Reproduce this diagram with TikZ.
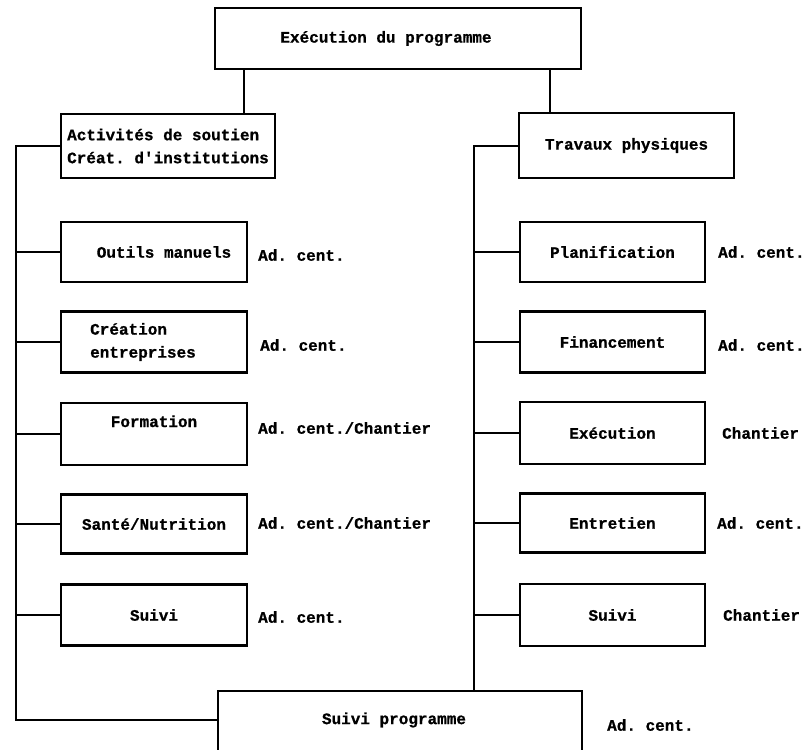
\documentclass[tikz,border=0pt]{standalone}
\usepackage{fontspec}
\setmonofont{Liberation Mono}[BoldFeatures={FakeBold=0.8}]
\begin{document}
\begin{tikzpicture}[x=1pt,y=-1pt,
  txt/.style={font=\ttfamily\bfseries\fontsize{16}{23}\selectfont},
  box/.style={txt, draw, line width=2.4pt, inner sep=0pt, minimum width=186pt, minimum height=60pt},
  side/.style={txt, anchor=west, inner sep=0pt},
  link/.style={line width=2pt}]
\useasboundingbox (0,0) rectangle (807,750);

% top level
\node[box, minimum width=366pt, minimum height=61pt] (top) at (398,38.5) {Exécution du programme\hspace*{24pt}};

% two branches
\node[box, minimum width=214pt, minimum height=64pt, align=left] (act) at (168,146) {Activités de soutien\\Créat. d'institutions};
\node[box, minimum width=215pt, minimum height=65pt] (trav) at (626.5,145.5) {Travaux physiques};

\coordinate (tl) at ([xshift=30pt]top.south west);
\coordinate (tr) at ([xshift=-32pt]top.south east);
\draw[link] (tl) -- (tl |- act.north);
\draw[link] (tr) -- (tr |- trav.north);

% support activities
\node[box] (o1) at (154,252) {\hspace*{20pt}Outils manuels};
\node[box, minimum height=61pt, align=left] (o2) at (154,342) {Création\\entreprises\hspace*{22pt}};
\node[box, minimum height=62pt] (o3) at (154,434) {\raisebox{7pt}[0pt][0pt]{Formation}};
\node[box, minimum height=59pt] (o4) at (154,524) {Santé/Nutrition};
\node[box, minimum height=61pt] (o5) at (154,615) {Suivi};

\node[side] (lo1) at (258,255) {Ad. cent.};
\node[side] (lo2) at (260,345) {Ad. cent.};
\node[side] (lo3) at (258,428) {Ad. cent./Chantier};
\node[side] (lo4) at (258,523) {Ad. cent./Chantier};
\node[side] (lo5) at (258,617) {Ad. cent.};

% physical works
\node[box, minimum width=185pt] (p1) at (612.5,252) {Planification};
\node[box, minimum width=185pt, minimum height=61pt] (p2) at (612.5,342) {Financement};
\node[box, minimum width=185pt, minimum height=62pt] (p3) at (612.5,433) {Exécution};
\node[box, minimum width=185pt, minimum height=59pt] (p4) at (612.5,523) {Entretien};
\node[box, minimum width=185pt, minimum height=62pt] (p5) at (612.5,615) {Suivi};

\node[side] (lp1) at (718,252) {Ad. cent.};
\node[side] (lp2) at (718,345) {Ad. cent.};
\node[side] (lp3) at (722,433) {Chantier};
\node[side] (lp4) at (717,523) {Ad. cent.};
\node[side] (lp5) at (723,615) {Chantier};

% programme follow-up (lower edge runs off the sheet)
\node[txt, minimum width=364pt, minimum height=58pt, inner sep=0pt] (bot) at (400,720) {Suivi programme\hspace*{12pt}};
\draw[line width=2.4pt] ([yshift=-6pt]bot.south west) -- (bot.north west) -- (bot.north east) -- ([yshift=-6pt]bot.south east);
\node[side] (lbot) at (607,725) {Ad. cent.};

% left spine
\coordinate (lsp) at (16,0);
\draw[link] (act.west) -| (lsp |- bot.west) -- (bot.west);
\foreach \n in {o1,o2,o3,o4,o5}
  \draw[link] (\n.west) -- (\n.west -| lsp);

% right spine
\coordinate (rsp) at (474,0);
\draw[link] (trav.west) -| (rsp |- bot.north);
\foreach \n in {p1,p2,p3,p4,p5}
  \draw[link] (\n.west) -- (\n.west -| rsp);
\end{tikzpicture}
\end{document}
